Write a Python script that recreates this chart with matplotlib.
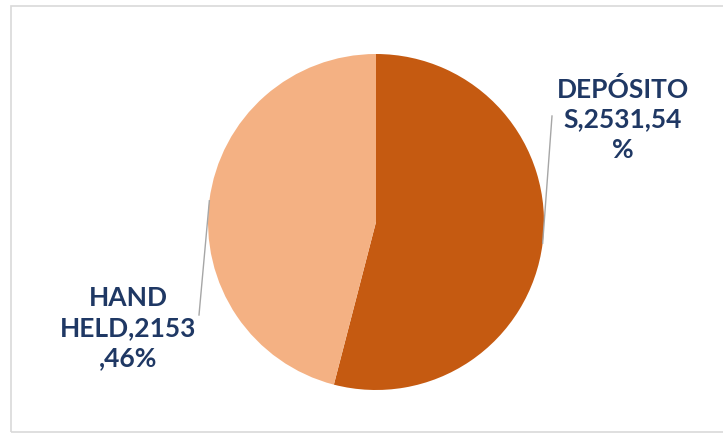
import matplotlib
matplotlib.use('Agg')
import matplotlib.pyplot as plt
from matplotlib.patches import Rectangle
import numpy as np

# data
categories = ['DEPÓSITOS', 'HAND HELD']
values = [2531, 2153]
label_texts = ['DEPÓSITO\nS,2531,54\n%', 'HAND\nHELD,2153\n,46%']
colors = ['#C55A11', '#F4B183']

W, H = 723, 433
cx, cy, r = 376, 222, 168  # pie centre / radius in pixels

fig = plt.figure(figsize=(W / 100, H / 100), dpi=100)
ax = fig.add_axes([0, 0, 1, 1])

wedges, _ = ax.pie(values, colors=colors, startangle=90, counterclock=False,
                   radius=1, wedgeprops=dict(linewidth=0))

ax.set_xlim(-cx / r, (W - cx) / r)
ax.set_ylim(-(H - cy) / r, cy / r)
ax.set_aspect('equal')
ax.axis('off')

# chart border
fig.patches.append(Rectangle((11 / W, 1 - 432 / H), 1, (432 - 6) / H,
                             transform=fig.transFigure, fill=False,
                             edgecolor='#D9D9D9', linewidth=1.2))

# label positions (pixels) and leader ends
label_pos = [(623, 119), (128, 328)]
leader_end = [(552, 116), (199, 315)]

for w, txt, (lx, ly), (ex, ey) in zip(wedges, label_texts, label_pos, leader_end):
    ang = np.deg2rad((w.theta1 + w.theta2) / 2)
    px, py = np.cos(ang), np.sin(ang)
    ax.plot([px, (ex - cx) / r], [py, (cy - ey) / r], color='#A6A6A6', lw=1)
    ax.text((lx - cx) / r, (cy - ly) / r, txt, ha='center', va='center',
            multialignment='center', fontsize=19, fontweight='bold',
            family=['Lato', 'DejaVu Sans'], color='#1F3864', linespacing=1.3)

fig.savefig('out.png', dpi=100)
